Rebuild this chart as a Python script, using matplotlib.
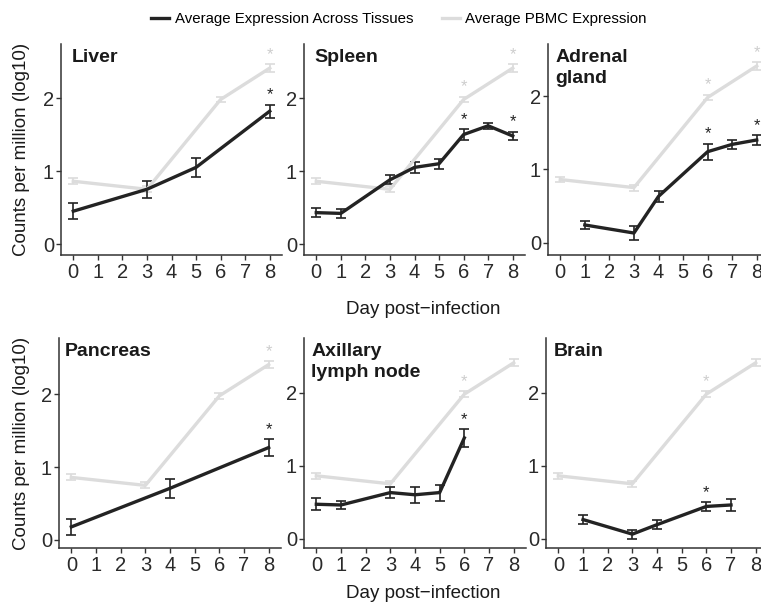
import matplotlib
matplotlib.use("Agg")
import matplotlib.pyplot as plt
from matplotlib.lines import Line2D

plt.rcParams['font.family'] = ['Liberation Sans', 'DejaVu Sans']

# PBMC reference series (same in every panel)
pbmc_days = [0, 3, 6, 8]
pbmc_vals = [0.86, 0.75, 1.98, 2.41]
pbmc_err = [0.04, 0.04, 0.04, 0.05]

# tissue series
liver_days = [0, 3, 5, 8]
liver_vals = [0.45, 0.75, 1.05, 1.82]
liver_err = [0.11, 0.12, 0.13, 0.09]

spleen_days = [0, 1, 3, 4, 5, 6, 7, 8]
spleen_vals = [0.43, 0.42, 0.88, 1.05, 1.10, 1.50, 1.62, 1.48]
spleen_err = [0.06, 0.06, 0.06, 0.08, 0.07, 0.07, 0.04, 0.06]

adrenal_days = [1, 3, 4, 6, 7, 8]
adrenal_vals = [0.24, 0.13, 0.63, 1.24, 1.34, 1.40]
adrenal_err = [0.06, 0.10, 0.08, 0.11, 0.06, 0.07]

pancreas_days = [0, 4, 8]
pancreas_vals = [0.18, 0.71, 1.27]
pancreas_err = [0.11, 0.13, 0.12]

axillary_days = [0, 1, 3, 4, 5, 6]
axillary_vals = [0.47, 0.46, 0.63, 0.60, 0.63, 1.38]
axillary_err = [0.08, 0.06, 0.08, 0.11, 0.11, 0.12]

brain_days = [1, 3, 4, 6, 7]
brain_vals = [0.26, 0.06, 0.19, 0.44, 0.46]
brain_err = [0.06, 0.06, 0.06, 0.06, 0.08]

# days marked with * (tissue, PBMC)
liver_sig, liver_pbmc_sig = [8], [8]
spleen_sig, spleen_pbmc_sig = [6, 8], [6, 8]
adrenal_sig, adrenal_pbmc_sig = [6, 8], [6, 8]
pancreas_sig, pancreas_pbmc_sig = [8], [8]
axillary_sig, axillary_pbmc_sig = [6], [6]
brain_sig, brain_pbmc_sig = [6], [6]

panels = [
    ("Liver", liver_days, liver_vals, liver_err, liver_sig, liver_pbmc_sig),
    ("Spleen", spleen_days, spleen_vals, spleen_err, spleen_sig, spleen_pbmc_sig),
    ("Adrenal\ngland", adrenal_days, adrenal_vals, adrenal_err, adrenal_sig, adrenal_pbmc_sig),
    ("Pancreas", pancreas_days, pancreas_vals, pancreas_err, pancreas_sig, pancreas_pbmc_sig),
    ("Axillary\nlymph node", axillary_days, axillary_vals, axillary_err, axillary_sig, axillary_pbmc_sig),
    ("Brain", brain_days, brain_vals, brain_err, brain_sig, brain_pbmc_sig),
]

DARK = '#232323'
GREY = '#dcdcdc'
GREY_STAR = '#cdcdcd'
AXC = '#333333'
FS = 13.5
TICK_FS = 14.5
TITLE_FS = 14

W, H = 761, 606
fig = plt.figure(figsize=(W / 100, H / 100), dpi=100)

# axes boxes in pixels: left, top, width, height
boxes = [(61, 44, 221, 211), (304, 44, 221, 211), (548, 44, 221, 211),
         (59, 338, 222, 210), (304, 338, 222, 210), (546, 338, 222, 210)]
ylims = [(-0.15, 2.74), (-0.15, 2.74), (-0.17, 2.71),
         (-0.11, 2.775), (-0.13, 2.75), (-0.13, 2.75)]
title_dx = [0.05, 0.045, 0.035, 0.027, 0.032, 0.035]


def stars(ax, days, vals, err, sig, color):
    for d, v, e in zip(days, vals, err):
        if d in sig:
            ax.annotate('*', (d, v + e), xytext=(0, 1.5), textcoords='offset points',
                        ha='center', va='bottom', fontsize=12, color=color)


for i, (name, days, vals, err, sig, psig) in enumerate(panels):
    l, t, w, h = boxes[i]
    ax = fig.add_axes([l / W, 1 - (t + h) / H, w / W, h / H])
    ax.errorbar(pbmc_days, pbmc_vals, yerr=pbmc_err, color=GREY, lw=2.4,
                elinewidth=1.2, capsize=3.5, capthick=1.2)
    ax.errorbar(days, vals, yerr=err, color=DARK, lw=2.4,
                elinewidth=1.2, capsize=3.5, capthick=1.2)
    stars(ax, pbmc_days, pbmc_vals, pbmc_err, psig, GREY_STAR)
    stars(ax, days, vals, err, sig, DARK)

    ax.set_xlim(-0.5, 8.5)
    ax.set_ylim(*ylims[i])
    ax.set_xticks(range(9))
    ax.set_yticks([0, 1, 2])
    for s in ['top', 'right']:
        ax.spines[s].set_visible(False)
    for s in ['left', 'bottom']:
        ax.spines[s].set_color(AXC)
        ax.spines[s].set_linewidth(1.1)
    ax.tick_params(axis='both', colors=AXC, labelcolor='#2a2a2a', labelsize=TICK_FS,
                   length=3.5, width=1.0, direction='out')
    ax.tick_params(axis='x', pad=2.5)
    ax.tick_params(axis='y', pad=1.5)
    ax.text(title_dx[i], 0.975, name, transform=ax.transAxes, ha='left', va='top',
            fontsize=TITLE_FS, fontweight='bold', color='#1a1a1a', linespacing=1.3)

# shared labels
for yc in [(44 + 255) / 2, (338 + 548) / 2]:
    fig.text(22 / W, 1 - yc / H, 'Counts per million (log10)', rotation=90,
             ha='center', va='center', fontsize=FS, color='#1a1a1a')
for yc in [309, 593]:
    fig.text(423 / W, 1 - yc / H, 'Day post\u2212infection', ha='center', va='center',
             fontsize=FS, color='#1a1a1a')

handles = [Line2D([], [], color=DARK, lw=2.4), Line2D([], [], color=GREY, lw=2.4)]
fig.legend(handles, ['Average Expression Across Tissues', 'Average PBMC Expression'],
           loc='center', bbox_to_anchor=(399 / W, 1 - 19 / H), ncol=2, frameon=False,
           fontsize=10.8, handlelength=1.2, handletextpad=0.35, columnspacing=1.9,
           borderpad=0, borderaxespad=0)

fig.savefig('out.png', dpi=100)
